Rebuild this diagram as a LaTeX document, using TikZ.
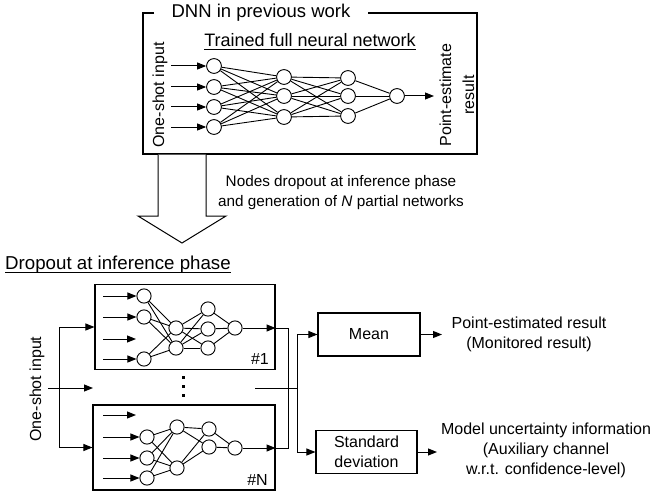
\documentclass[tikz,border=0pt]{standalone}
\usepackage{fontspec}
\setmainfont{Liberation Sans}
\usetikzlibrary{arrows.meta}
\begin{document}
\begin{tikzpicture}[x=1pt,y=-1pt,
  every node/.style={font=\fontsize{16}{20}\selectfont},
  neuron/.style={draw,circle,minimum size=14.8pt,inner sep=0pt,line width=0.9pt,fill=white},
  sneuron/.style={neuron,minimum size=14.2pt},
  arr/.style={-{Triangle[length=9pt,width=7pt]},line width=1pt},
  conn/.style={line width=0.9pt},
  wire/.style={line width=1pt},
  box/.style={draw,line width=1.1pt,inner sep=0pt},
  txt/.style={inner sep=0pt}]
\useasboundingbox (0,0) rectangle (671,492);

% ---------- top: DNN in previous work ----------
\draw[box] (154,13) -- (143,13) -- (143,154) -- (477,154) -- (477,13) -- (368,13);
\node[txt,anchor=base,font=\fontsize{18.5}{22}\selectfont] (title) at (261,18) {DNN in previous work};
\node[txt,anchor=base,font=\fontsize{18}{21}\selectfont] (trained) at (310,47) {Trained full neural network};
\draw[line width=0.8pt] ([yshift=-2.5pt]trained.base west) -- ([yshift=-2.5pt]trained.base east);
\node[rotate=90,txt] (tin) at (160,95) {One-shot input};
\node[rotate=90,txt,align=center,font=\fontsize{16}{23}\selectfont] (tres) at (457,95) {Point-estimate\\result};

\foreach \i/\y in {1/66,2/87,3/107,4/127}{
  \node[neuron] (ta\i) at (214,\y) {};
  \coordinate (ti\i) at (171,\y);
  \draw[arr] (ti\i) -- (ta\i);
}
\foreach \i/\y in {1/77,2/96,3/117} \node[neuron] (tb\i) at (284,\y) {};
\foreach \i/\y in {1/78,2/96,3/116} \node[neuron] (tc\i) at (348,\y) {};
\node[neuron] (td) at (397,96) {};
\foreach \i in {1,...,4} \foreach \j in {1,2,3} \draw[conn] (ta\i) -- (tb\j);
\foreach \i in {1,2,3} \foreach \j in {1,2,3} \draw[conn] (tb\i) -- (tc\j);
\foreach \i in {1,2,3} \draw[conn] (tc\i) -- (td);
\coordinate (tout) at (434,96);
\draw[arr] (td) -- (tout);

% ---------- big hollow arrow ----------
\draw[line width=1pt,fill=white] (158,154.5) -- (158,216) -- (138,216) -- (182,243) -- (226,216) -- (206,216) -- (206,154.5);
\node[align=center,font=\fontsize{15.3}{20}\selectfont] (dropnote) at (341,193)
  {Nodes dropout at inference phase\\and generation of \textit{N} partial networks};

% ---------- lower: dropout at inference phase ----------
\node[txt,anchor=base west,font=\fontsize{18.7}{22}\selectfont] (dtitle) at (5,269) {Dropout at inference phase};
\draw[line width=0.8pt] ([yshift=-3.5pt]dtitle.base west) -- ([yshift=-3.5pt]dtitle.base east);

\node[box,minimum width=180pt,minimum height=85pt] (box1) at (185,327) {};
\node[box,minimum width=182pt,minimum height=85pt] (boxN) at (184,447.5) {};

% network #1
\foreach \i/\y in {1/296,2/317,4/359}{
  \node[sneuron] (pa\i) at (144,\y) {};
  \coordinate (pi\i) at (103,\y);
  \draw[arr] (pi\i) -- (pa\i);
}
\coordinate (pi3) at (103,339);
\coordinate (pe3) at (136,339);
\draw[arr] (pi3) -- (pe3);
\foreach \i/\y in {1/328,2/348} \node[sneuron] (pb\i) at (176,\y) {};
\foreach \i/\y in {1/309,2/329,3/348} \node[sneuron] (pc\i) at (208,\y) {};
\node[sneuron] (pd) at (235,328) {};
\foreach \i in {1,2,4} \foreach \j in {1,2} \draw[conn] (pa\i) -- (pb\j);
\foreach \i in {1,2} \foreach \j in {1,2,3} \draw[conn] (pb\i) -- (pc\j);
\foreach \i in {1,2,3} \draw[conn] (pc\i) -- (pd);
\draw[arr] (pd) -- (pd -| box1.east);
\node[txt,anchor=base east] (lab1) at (269,364) {\#1};

% network #N
\coordinate (qi1) at (103,415);
\coordinate (qe1) at (136,415);
\draw[arr] (qi1) -- (qe1);
\foreach \i/\y in {2/437,3/458,4/478}{
  \node[sneuron] (qa\i) at (147,\y) {};
  \coordinate (qi\i) at (103,\y);
  \draw[arr] (qi\i) -- (qa\i);
}
\foreach \i/\y in {1/427,2/468} \node[sneuron] (qb\i) at (177,\y) {};
\foreach \i/\y in {1/429,2/447} \node[sneuron] (qc\i) at (209,\y) {};
\node[sneuron] (qd) at (235,448) {};
\foreach \i in {2,3,4} \foreach \j in {1,2} \draw[conn] (qa\i) -- (qb\j);
\foreach \i in {1,2} \foreach \j in {1,2} \draw[conn] (qb\i) -- (qc\j);
\foreach \i in {1,2} \draw[conn] (qc\i) -- (qd);
\draw[arr] (qd) -- (qd -| boxN.east);
\node[txt,anchor=base east] (labN) at (268,485) {\#N};

% vertical dots
\foreach \y in {377,386,395} \fill (181.5,\y-1.5) rectangle (184.5,\y+1.5);

% left input distribution
\node[rotate=90,txt] (lin) at (37,389) {One-shot input};
\coordinate (s0) at (48,388);
\coordinate (s1) at (59,388);
\coordinate (smid) at (93,388);
\coordinate (stop) at (59,327);
\coordinate (sbot) at (59,447.5);
\draw[arr] (s0) -- (smid);
\draw[wire] (stop) -- (sbot);
\draw[arr] (stop) -- (box1.west);
\draw[arr] (sbot) -- (boxN.west);

% right merge
\coordinate (j1) at (288,328);
\coordinate (j2) at (288,448);
\draw[wire] (pd -| box1.east) -- (j1) -- (j2) -- (qd -| boxN.east);
\coordinate (m1) at (255,388);
\coordinate (m2) at (297,388);
\draw[wire] (m1) -- (m2);

\node[box,minimum width=102pt,minimum height=43pt] (mean) at (369,334.5) {Mean};
\node[box,align=center,minimum width=101pt,minimum height=43pt] (std) at (366.5,452) {Standard\\deviation};
\coordinate (k1) at (297,334.5);
\coordinate (k2) at (297,452);
\draw[wire] (k1) -- (k2);
\draw[arr] (k1) -- (mean.west);
\draw[arr] (k2) -- (std.west);

\coordinate (r1) at (442,334.5);
\coordinate (r2) at (437,452);
\draw[arr] (mean.east) -- (r1);
\draw[arr] (std.east) -- (r2);
\node[align=center] (res1) at (529,334) {Point-estimated result\\(Monitored result)};
\node[align=center] (res2) at (546,450) {Model uncertainty information\\(Auxiliary channel\\w.r.t. confidence-level)};
\end{tikzpicture}
\end{document}
